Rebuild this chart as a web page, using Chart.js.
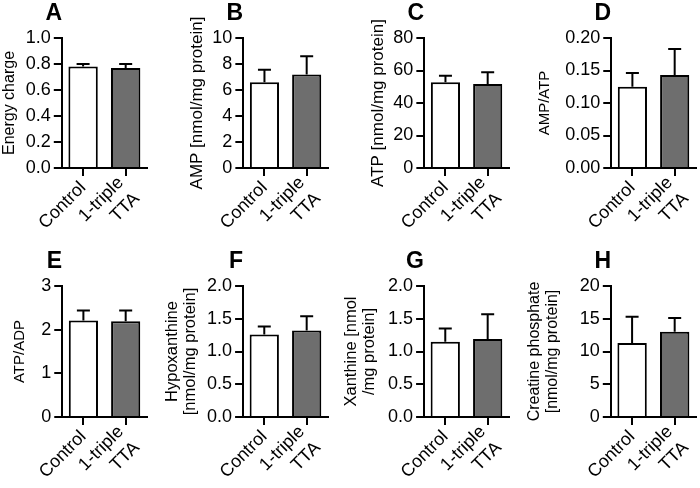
<!DOCTYPE html>
<html>
<head>
<meta charset="utf-8">
<script src="https://cdn.jsdelivr.net/npm/chart.js@4.4.1/dist/chart.umd.min.js"></script>
<style>
body { margin: 0; background: #fff; width: 700px; height: 488px; position: relative; overflow: hidden; font-family: "Liberation Sans", Arial, sans-serif; }
canvas { position: absolute; }
.letter { position: absolute; width: 30px; text-align: right; font-weight: bold; font-size: 23px; line-height: 20px; color: #000; }
</style>
</head>
<body>
<script>
// Groups on the x axis
const categories = ['Control', ['1-triple', 'TTA']];

// Means and upper error (SD) per panel
const energyCharge = [0.78, 0.77];
const energyChargeErr = [0.02, 0.03];
const amp = [6.6, 7.2];
const ampErr = [0.95, 1.4];
const atp = [52.7, 51.7];
const atpErr = [4.1, 7.2];
const ampAtp = [0.125, 0.143];
const ampAtpErr = [0.021, 0.040];
const atpAdp = [2.21, 2.19];
const atpAdpErr = [0.23, 0.25];
const hypoxanthine = [1.26, 1.32];
const hypoxanthineErr = [0.12, 0.22];
const xanthine = [1.15, 1.19];
const xanthineErr = [0.20, 0.38];
const creatinePhosphate = [11.3, 13.0];
const creatinePhosphateErr = [4.0, 2.1];

// Y tick labels per panel
const energyTicks = [0, 0.2, 0.4, 0.6, 0.8, 1.0];
const ampTicks = [0, 2, 4, 6, 8, 10];
const atpTicks = [0, 20, 40, 60, 80];
const ampAtpTicks = [0, 0.05, 0.10, 0.15, 0.20];
const atpAdpTicks = [0, 1, 2, 3];
const hypoTicks = [0, 0.5, 1.0, 1.5, 2.0];
const xanthineTicks = [0, 0.5, 1.0, 1.5, 2.0];
const crpTicks = [0, 5, 10, 15, 20];

const barColors = ['#ffffff', '#6e6e6e'];
Chart.defaults.font.family = '"Liberation Sans", Arial, sans-serif';
Chart.defaults.color = '#000';

// layout of the 8 panels: axis = x pixel of y axis, gap = axis to title centre
const panels = [
  { letter: 'A', title: 'Energy charge', data: energyCharge, err: energyChargeErr, ticks: energyTicks, dec: 1, axis: 62, row: 0, gap: 52, tsize: 16 },
  { letter: 'B', title: 'AMP [nmol/mg protein]', data: amp, err: ampErr, ticks: ampTicks, dec: 0, axis: 243, row: 0, gap: 46, tsize: 17 },
  { letter: 'C', title: 'ATP [nmol/mg protein]', data: atp, err: atpErr, ticks: atpTicks, dec: 0, axis: 424, row: 0, gap: 46, tsize: 17 },
  { letter: 'D', title: 'AMP/ATP', data: ampAtp, err: ampAtpErr, ticks: ampAtpTicks, dec: 2, axis: 611, row: 0, gap: 66, tsize: 15 },
  { letter: 'E', title: 'ATP/ADP', data: atpAdp, err: atpAdpErr, ticks: atpAdpTicks, dec: 0, axis: 62, row: 1, gap: 42, tsize: 15 },
  { letter: 'F', title: ['Hypoxanthine', '[nmol/mg protein]'], data: hypoxanthine, err: hypoxanthineErr, ticks: hypoTicks, dec: 1, axis: 243, row: 1, gap: 71, tsize: 16.5 },
  { letter: 'G', title: ['Xanthine [nmol', '/mg protein]'], data: xanthine, err: xanthineErr, ticks: xanthineTicks, dec: 1, axis: 424, row: 1, gap: 73, tsize: 16.5 },
  { letter: 'H', title: ['Creatine phosphate', '[nmol/mg protein]'], data: creatinePhosphate, err: creatinePhosphateErr, ticks: crpTicks, dec: 0, axis: 611, row: 1, gap: 76, tsize: 16 }
];

const rows = [
  { top: 0, height: 240, areaTop: 38, areaBottom: 168, letterTop: 2 },
  { top: 240, height: 248, areaTop: 46, areaBottom: 177, letterTop: 250 }
];
const areaWidth = 86;
const padRight = 14;

// upper error bars with caps
const errorBars = {
  id: 'errorBars',
  afterDatasetsDraw(chart) {
    const ctx = chart.ctx;
    const yScale = chart.scales.y;
    const ds = chart.data.datasets[0];
    ctx.save();
    ctx.strokeStyle = '#000';
    ctx.lineWidth = 2;
    chart.getDatasetMeta(0).data.forEach((bar, i) => {
      const top = yScale.getPixelForValue(ds.data[i] + ds.errors[i]);
      ctx.beginPath();
      ctx.moveTo(bar.x, bar.y);
      ctx.lineTo(bar.x, top);
      ctx.moveTo(bar.x - 6.5, top);
      ctx.lineTo(bar.x + 6.5, top);
      ctx.stroke();
    });
    ctx.restore();
  }
};

// two-line x labels sit a bit closer to the axis, like the original
const labelShift = {
  id: 'labelShift',
  beforeDraw(chart) {
    chart.scales.x.getLabelItems().forEach(item => {
      if (Array.isArray(item.label) && !item.shifted) {
        item.textOffset -= 7;
        item.shifted = true;
      }
    });
  }
};

panels.forEach(p => {
  const row = rows[p.row];
  const lh = 1.1;
  const yw = p.gap + p.tsize * lh / 2;
  const left = p.axis - yw;
  const width = Math.round(yw + areaWidth + padRight);

  const canvas = document.createElement('canvas');
  canvas.width = width;
  canvas.height = row.height;
  canvas.style.left = left + 'px';
  canvas.style.top = row.top + 'px';
  document.body.appendChild(canvas);

  const letter = document.createElement('div');
  letter.className = 'letter';
  letter.textContent = p.letter;
  letter.style.left = (p.axis - 30) + 'px';
  letter.style.top = row.letterTop + 'px';
  document.body.appendChild(letter);

  new Chart(canvas, {
    type: 'bar',
    data: {
      labels: categories,
      datasets: [{
        data: p.data,
        errors: p.err,
        backgroundColor: barColors,
        borderColor: '#000',
        borderWidth: 2,
        categoryPercentage: 1,
        barPercentage: 0.69
      }]
    },
    options: {
      responsive: false,
      animation: false,
      events: [],
      layout: { padding: { top: row.areaTop, right: padRight, bottom: 0, left: 0 } },
      plugins: { legend: { display: false }, tooltip: { enabled: false } },
      scales: {
        x: {
          grid: { display: true, drawOnChartArea: false, offset: false, tickLength: 8, color: '#000', lineWidth: 2 },
          border: { display: true, color: '#000', width: 2 },
          ticks: { autoSkip: false, maxRotation: 45, minRotation: 45, padding: 1, font: { size: 18, lineHeight: 1.25 } },
          afterFit: s => { s.height = row.height - row.areaBottom; }
        },
        y: {
          min: 0,
          max: p.ticks[p.ticks.length - 1],
          grid: { display: true, drawOnChartArea: false, tickLength: 8, color: '#000', lineWidth: 2 },
          border: { display: true, color: '#000', width: 2 },
          ticks: { padding: 3, font: { size: 18 }, callback: v => Number(v).toFixed(p.dec) },
          afterBuildTicks: s => { s.ticks = p.ticks.map(v => ({ value: v })); },
          title: { display: true, text: p.title, padding: { top: 0, bottom: 0 }, font: { size: p.tsize, lineHeight: lh } },
          afterFit: s => { s.width = yw; }
        }
      }
    },
    plugins: [errorBars, labelShift]
  });
});
</script>
</body>
</html>
